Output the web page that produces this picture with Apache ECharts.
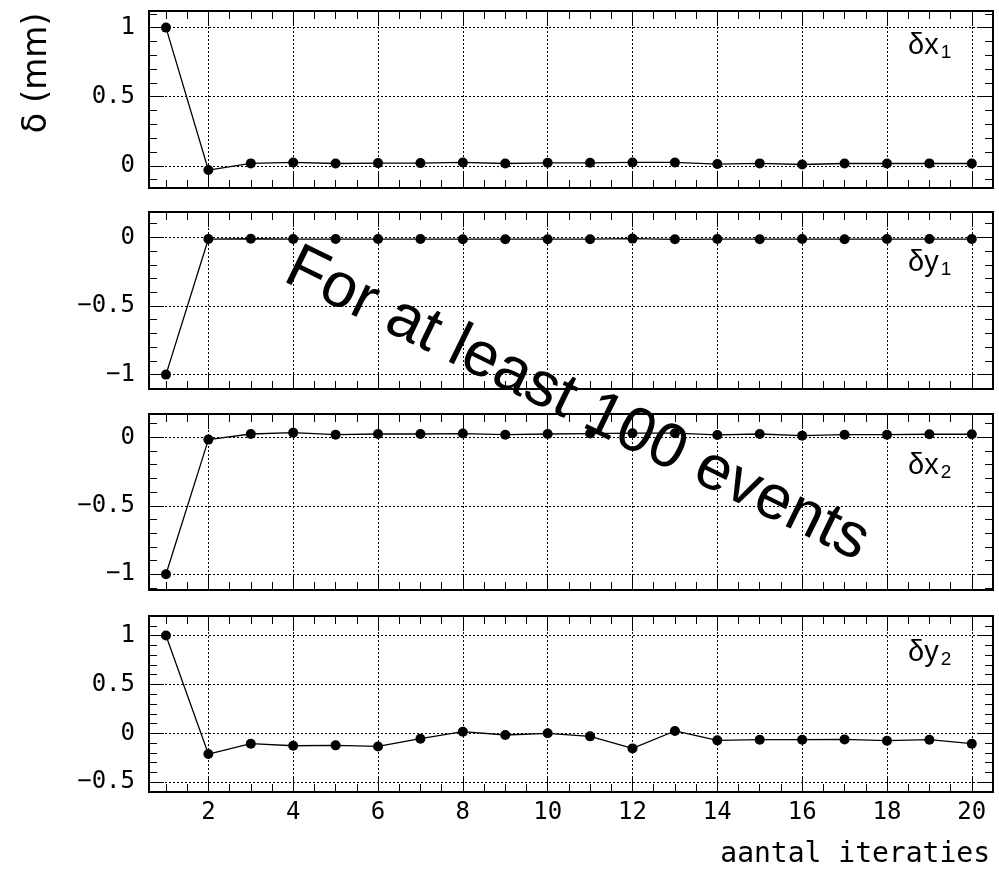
<!DOCTYPE html>
<html>
<head>
<meta charset="utf-8">
<script src="https://cdn.jsdelivr.net/npm/echarts@6/dist/echarts.min.js"></script>
<style>
html,body{margin:0;padding:0;background:#fff;}
#chart{width:999px;height:869px;}
</style>
</head>
<body>
<div id="chart"></div>
<script>
// ---- data ----
const iterations = [1,2,3,4,5,6,7,8,9,10,11,12,13,14,15,16,17,18,19,20];
const dx1 = [1.0, -0.03, 0.018, 0.025, 0.017, 0.02, 0.02, 0.025, 0.017, 0.022, 0.022, 0.025, 0.025, 0.013, 0.018, 0.01, 0.017, 0.017, 0.018, 0.017];
const dy1 = [-1.0, -0.012, -0.01, -0.012, -0.012, -0.012, -0.012, -0.013, -0.013, -0.013, -0.013, -0.009, -0.014, -0.012, -0.013, -0.012, -0.013, -0.012, -0.012, -0.012];
const dx2 = [-1.0, -0.017, 0.024, 0.034, 0.019, 0.024, 0.024, 0.027, 0.019, 0.024, 0.027, 0.03, 0.03, 0.017, 0.024, 0.012, 0.019, 0.019, 0.022, 0.022];
const dy2 = [1.0, -0.212, -0.106, -0.127, -0.123, -0.134, -0.055, 0.017, -0.017, 0.0, -0.031, -0.154, 0.024, -0.072, -0.065, -0.065, -0.062, -0.075, -0.065, -0.106];
const panelNames = [['δx','1'], ['δy','1'], ['δx','2'], ['δy','2']];
const yTitle = 'δ (mm)';
const xTitle = 'aantal iteraties';
const note = 'For at least 100 events';

// ---- layout ----
const seriesValues = [dx1, dy1, dx2, dy2];
const layout = [
  {top: 11,  height: 177, yMin: -0.16,  yMax: 1.12,  labelY: 46},
  {top: 212, height: 177, yMin: -1.105, yMax: 0.185, labelY: 263},
  {top: 414, height: 176, yMin: -1.115, yMax: 0.17,  labelY: 466},
  {top: 616, height: 176, yMin: -0.6,   yMax: 1.2,   labelY: 653}
];
const X_MIN = 0.6, X_MAX = 20.5;
const TICK_FONT = 'DejaVu Sans Mono';

function fmtY(v) {
  const r = Math.round(v * 2) / 2;
  if (Math.abs(v - r) > 1e-6) return '';
  if (r === 0) return '0';
  return (r < 0 ? '\u2212' : '') + String(Math.abs(r));
}
function fmtX(v) {
  const r = Math.round(v);
  if (Math.abs(v - r) > 1e-6 || r % 2 !== 0) return '';
  return String(r);
}

const grids = [], xAxes = [], yAxes = [], series = [];
const tickStyle = {color: '#000', width: 1};
const dotted = {color: '#000', width: 1, type: [2, 2]};

layout.forEach((p, i) => {
  grids.push({left: 149, right: 6, top: p.top, height: p.height, show: true,
    borderColor: '#000', borderWidth: 2, backgroundColor: 'transparent',
    containLabel: false, outerBoundsMode: 'none'});
  const xb = {type: 'value', gridIndex: i, min: X_MIN, max: X_MAX,
    axisLine: {show: false, onZero: false}, splitLine: {show: false}, axisLabel: {show: false}};
  xAxes.push(Object.assign({}, xb, {position: 'bottom', splitNumber: 10,
    axisTick: {inside: true, length: 15, lineStyle: tickStyle},
    splitLine: {show: true, lineStyle: dotted},
    axisLabel: {show: i === 3, formatter: fmtX, margin: 9, color: '#000',
      fontFamily: TICK_FONT, fontSize: 24}}));
  xAxes.push(Object.assign({}, xb, {position: 'bottom', splitNumber: 40,
    axisTick: {inside: true, length: 8, lineStyle: tickStyle}}));
  xAxes.push(Object.assign({}, xb, {position: 'top', splitNumber: 10,
    axisTick: {inside: true, length: 15, lineStyle: tickStyle}}));
  xAxes.push(Object.assign({}, xb, {position: 'top', splitNumber: 40,
    axisTick: {inside: true, length: 8, lineStyle: tickStyle}}));

  const yb = {type: 'value', gridIndex: i, min: p.yMin, max: p.yMax,
    axisLine: {show: false, onZero: false}, splitLine: {show: false}, axisLabel: {show: false}};
  yAxes.push(Object.assign({}, yb, {position: 'left', splitNumber: 3,
    axisTick: {inside: true, length: 15, lineStyle: tickStyle},
    splitLine: {show: true, lineStyle: dotted},
    axisLabel: {show: true, formatter: fmtY, margin: 14, color: '#000',
      fontFamily: TICK_FONT, fontSize: 24}}));
  yAxes.push(Object.assign({}, yb, {position: 'left', splitNumber: 13,
    axisTick: {inside: true, length: 8, lineStyle: tickStyle}}));
  yAxes.push(Object.assign({}, yb, {position: 'right', splitNumber: 3,
    axisTick: {inside: true, length: 15, lineStyle: tickStyle}}));
  yAxes.push(Object.assign({}, yb, {position: 'right', splitNumber: 13,
    axisTick: {inside: true, length: 8, lineStyle: tickStyle}}));

  series.push({type: 'line', xAxisIndex: i * 4, yAxisIndex: i * 4,
    data: iterations.map((x, k) => [x, seriesValues[i][k]]),
    symbol: 'circle', symbolSize: 10, showAllSymbol: true,
    lineStyle: {color: '#000', width: 1.3}, itemStyle: {color: '#000'},
    silent: true, z: 3});
});

const graphics = [
  {type: 'text', x: 37, y: 73, rotation: Math.PI / 2,
    style: {text: yTitle, font: '33px "DejaVu Sans"', align: 'center', verticalAlign: 'middle', fill: '#000'}},
  {type: 'text', x: 990, y: 855,
    style: {text: xTitle, font: '28px "DejaVu Sans Mono"', align: 'right', verticalAlign: 'middle', fill: '#000'}},
  {type: 'text', x: 577, y: 405, rotation: -26 * Math.PI / 180, z: 100,
    style: {text: note, font: '63px "Liberation Sans"', align: 'center', verticalAlign: 'middle', fill: '#000'}}
];
layout.forEach((p, i) => {
  graphics.push({type: 'text', x: 908, y: p.labelY, z: 50,
    style: {text: '{a|' + panelNames[i][0] + '}{b|' + panelNames[i][1] + '}',
      align: 'left', verticalAlign: 'middle',
      rich: {
        a: {fontSize: 29, fontFamily: 'Liberation Sans', lineHeight: 32, fill: '#000', verticalAlign: 'middle'},
        b: {fontSize: 19, fontFamily: 'Liberation Sans', lineHeight: 18, fill: '#000', verticalAlign: 'bottom', padding: [0, 0, 0, 2]}
      }}});
});

const chart = echarts.init(document.getElementById('chart'), null, {renderer: 'canvas'});
chart.setOption({
  animation: false,
  backgroundColor: '#fff',
  grid: grids,
  xAxis: xAxes,
  yAxis: yAxes,
  series: series,
  graphic: graphics
});
</script>
</body>
</html>
